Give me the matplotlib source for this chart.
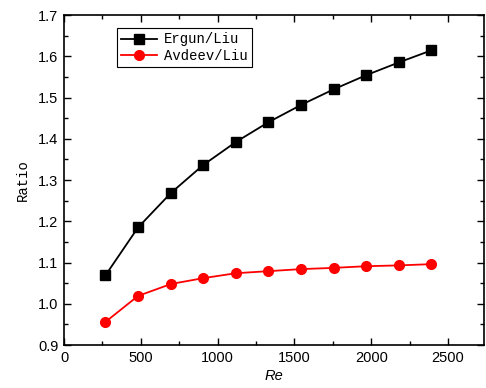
import matplotlib
matplotlib.use("Agg")
import matplotlib.pyplot as plt
from matplotlib.ticker import MultipleLocator

# values
re_values = [270, 482, 697, 905, 1118, 1330, 1543, 1756, 1966, 2179, 2389]
ergun_liu = [1.069, 1.185, 1.269, 1.336, 1.392, 1.440, 1.482, 1.520, 1.554, 1.585, 1.614]
avdeev_liu = [0.956, 1.019, 1.048, 1.062, 1.074, 1.079, 1.084, 1.087, 1.091, 1.093, 1.096]

label_font = "Liberation Mono"
tick_font = "Liberation Sans"

fig = plt.figure(figsize=(4.86, 3.88), dpi=100)
ax = fig.add_axes([0.1317, 0.1108, 0.8642, 0.8505])

ax.plot(re_values, ergun_liu, color="black", marker="s", markersize=7,
        linewidth=1.3, label="Ergun/Liu")
ax.plot(re_values, avdeev_liu, color="red", marker="o", markersize=7,
        linewidth=1.3, label="Avdeev/Liu")

ax.set_xlim(0, 2734)
ax.set_ylim(0.9, 1.7)
ax.xaxis.set_major_locator(MultipleLocator(500))
ax.xaxis.set_minor_locator(MultipleLocator(250))
ax.yaxis.set_major_locator(MultipleLocator(0.1))
ax.yaxis.set_minor_locator(MultipleLocator(0.05))
ax.yaxis.set_major_formatter(plt.FuncFormatter(lambda v, _: f"{v:.1f}"))
ax.tick_params(which="both", direction="in", top=True, right=True, width=1.0)
ax.tick_params(which="major", length=5, labelsize=10.5, pad=4)
ax.tick_params(which="minor", length=3)
for lbl in ax.get_xticklabels() + ax.get_yticklabels():
    lbl.set_fontfamily(tick_font)
for sp in ax.spines.values():
    sp.set_linewidth(1.2)

ax.set_xlabel("Re", fontfamily=tick_font, fontstyle="italic", fontsize=10.5, labelpad=3)
ax.set_ylabel("Ratio", fontfamily=label_font, fontsize=10, labelpad=6)

leg = ax.legend(loc="upper left", bbox_to_anchor=(0.126, 0.96), borderaxespad=0,
                frameon=True, fancybox=False, edgecolor="black", framealpha=1,
                prop={"family": label_font, "size": 10},
                handlelength=2.6, borderpad=0.3, labelspacing=0.2, handletextpad=0.5)
leg.get_frame().set_linewidth(0.8)

fig.savefig("out.png", dpi=100)
